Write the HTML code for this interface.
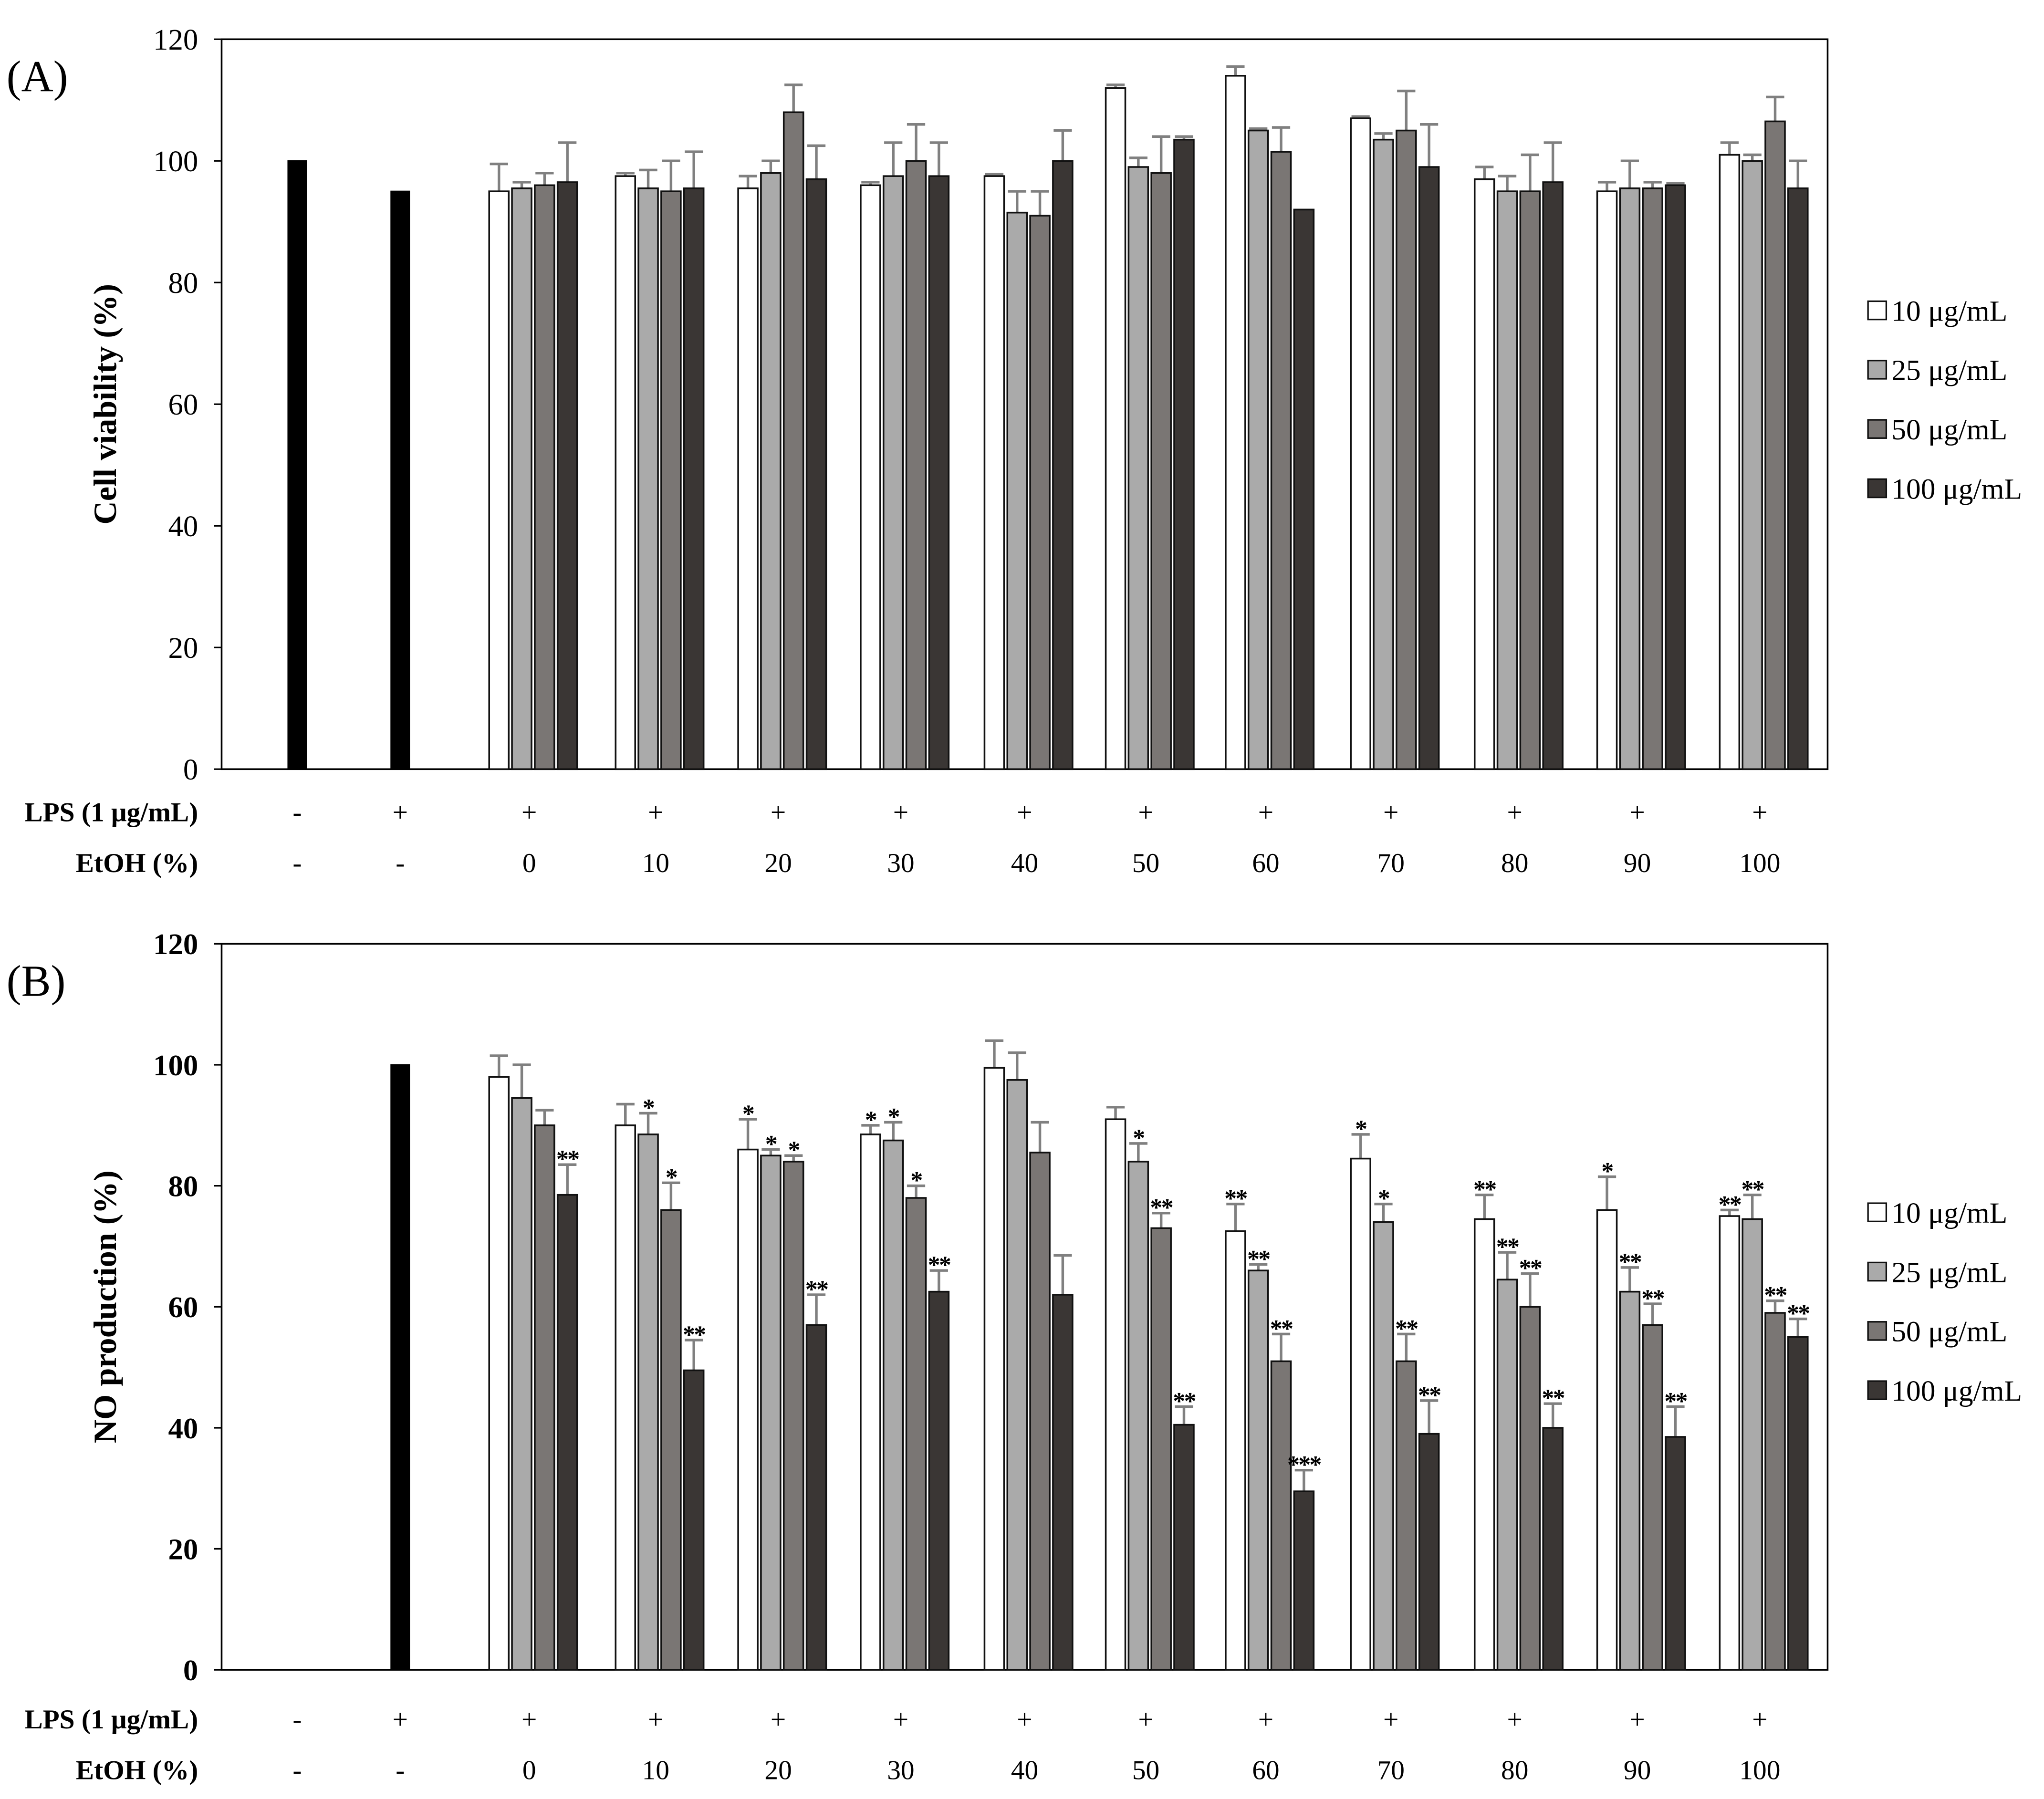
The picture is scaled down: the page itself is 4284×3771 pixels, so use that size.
<!DOCTYPE html>
<html><head><meta charset="utf-8"><style>
html,body{margin:0;padding:0;background:#fff}
svg{display:block}
text{font-family:"Liberation Serif",serif;fill:#000}
</style></head><body>
<svg id="fig" width="4284" height="3771" viewBox="0 0 1568 1380" xmlns="http://www.w3.org/2000/svg"></svg>
<script>
const groups = ['0','10','20','30','40','50','60','70','80','90','100'];
const seriesNames = ['10 μg/mL','25 μg/mL','50 μg/mL','100 μg/mL'];
const ctrlA = [100, 95];
const ctrlB = [0, 100];
const valsA10 = [95,97.5,95.5,96,97.5,112,114,107,97,95,101];
const valsA25 = [95.5,95.5,98,97.5,91.5,99,105,103.5,95,95.5,100];
const valsA50 = [96,95,108,100,91,98,101.5,105,95,95.5,106.5];
const valsA100 = [96.5,95.5,97,97.5,100,103.5,92,99,96.5,96,95.5];
const errA10 = [4.5,0.5,2,0.5,0.3,0.5,1.5,0.3,2,1.5,2];
const errA25 = [1,3,2,5.5,3.5,1.5,0.3,1,2.5,4.5,1];
const errA50 = [2,5,4.5,6,4,6,4,6.5,6,1,4];
const errA100 = [6.5,6,5.5,5.5,5,0.5,0,7,6.5,0.3,4.5];
const valsB10 = [98,90,86,88.5,99.5,91,72.5,84.5,74.5,76,75];
const valsB25 = [94.5,88.5,85,87.5,97.5,84,66,74,64.5,62.5,74.5];
const valsB50 = [90,76,84,78,85.5,73,51,51,60,57,59];
const valsB100 = [78.5,49.5,57,62.5,62,40.5,29.5,39,40,38.5,55];
const errB10 = [3.5,3.5,5,1.5,4.5,2,4.5,4,4,5.5,1];
const errB25 = [5.5,3.5,1,3,4.5,3,1,3,4.5,4,4];
const errB50 = [2.5,4.5,1,2,5,2.5,4.5,4.5,5.5,3.5,2];
const errB100 = [5,5,5,3.5,6.5,3,3.5,5.5,4,5,3];
const starsB10 = ['','','*','*','','','**','*','**','*','**'];
const starsB25 = ['','*','*','*','','*','**','*','**','**','**'];
const starsB50 = ['','*','*','*','','**','**','**','**','**','**'];
const starsB100 = ['**','**','**','**','','**','***','**','**','**','**'];
const yTicks = [0,20,40,60,80,100,120];
const lpsLabels = ['-','+','+','+','+','+','+','+','+','+','+','+','+'];
const etohLabels = ['-','-','0','10','20','30','40','50','60','70','80','90','100'];

const NS='http://www.w3.org/2000/svg';
const svg=document.getElementById('fig');
const fills=['#ffffff','#aaaaaa','#7a7674','#3a3634'];
function mk(tag,attrs,parent){const e=document.createElementNS(NS,tag);for(const k in attrs)e.setAttribute(k,attrs[k]);(parent||svg).appendChild(e);return e;}
const centers=[228,307,406,503,597,691,786,879,971,1067,1162,1256,1350];
const pitch=17.5, bw=15, shift=3;

function panel(name,top,bottom,ctrl,vals,errs,stars,yTitle,tickBold,letter,rowY,legY){
  const g=mk('g',{});
  
  
  const y=v=>bottom-(v/120)*(bottom-top);
  const t=mk('text',{x:5,y:top+40,'font-size':34},g);t.textContent=letter;
  
  
  const fr=mk('rect',{x:170,y:top,width:1232,height:bottom-top,fill:'none',stroke:'#000','stroke-width':1.3},g);
  
  
  yTicks.forEach(v=>{
    mk('line',{x1:164,x2:170,y1:y(v),y2:y(v),stroke:'#000','stroke-width':1.2},g);
    const tt=mk('text',{x:152,y:y(v)+8,'font-size':23,'text-anchor':'end','font-weight':tickBold?'bold':'normal'},g);
    tt.textContent=v;
    
    
  });
  const yt=mk('text',{x:0,y:0,'font-size':25,'font-weight':'bold','text-anchor':'middle',transform:`translate(89,${(top+bottom)/2}) rotate(-90)`},g);
  yt.textContent=yTitle;
  
  
  ctrl.forEach((v,i)=>{
    if(v<=0)return;
    const r=mk('rect',{x:centers[i]-7,y:y(v),width:14,height:bottom-y(v),fill:'#000',stroke:'#000','stroke-width':1},g);
    
    
  });
  groups.forEach((gname,gi)=>{
    const cx=centers[gi+2]+shift;
    for(let s=0;s<4;s++){
      const v=vals[s][gi], e=errs[s][gi];
      const bx=cx+(s-1.5)*pitch;
      if(e>0){
        mk('line',{x1:bx,x2:bx,y1:y(v),y2:y(v+e),stroke:'#808080','stroke-width':2},g);
        mk('line',{x1:bx-7,x2:bx+7,y1:y(v+e),y2:y(v+e),stroke:'#808080','stroke-width':2},g);
      }
      const r=mk('rect',{x:bx-bw/2,y:y(v),width:bw,height:bottom-y(v),fill:fills[s],stroke:'#111','stroke-width':1.3},g);
      
      
      if(stars&&stars[s][gi]){
        const st=mk('text',{x:bx,y:y(v+e)+2,'font-size':19,'font-weight':'bold','text-anchor':'middle','font-family':'Liberation Sans','letter-spacing':'-1'},g);
        st.textContent=stars[s][gi];
        
        
      }
    }
  });
  [['LPS (1 μg/mL)',lpsLabels,rowY],['EtOH (%)',etohLabels,rowY+39]].forEach(([lab,arr,ry])=>{
    const l=mk('text',{x:152,y:ry,'font-size':21,'font-weight':'bold','text-anchor':'end'},g);
    l.textContent=lab;
    
    
    arr.forEach((a,i)=>{
      const c=mk('text',{x:centers[i],y:ry,'font-size':21,'text-anchor':'middle'},g);
      c.textContent=a;
      
      
    });
  });
  seriesNames.forEach((n,s)=>{
    const ly=legY+s*45.5;
    const r=mk('rect',{x:1433,y:ly-7,width:14,height:14,fill:fills[s],stroke:'#111','stroke-width':1.2},g);
    
    
    const lt=mk('text',{x:1451,y:ly+8,'font-size':22.5},g);
    lt.textContent=n;
    
    
  });
}
panel('panel-a-cell-viability',30,590,ctrlA,[valsA10,valsA25,valsA50,valsA100],[errA10,errA25,errA50,errA100],null,'Cell viability (%)',false,'(A)',630,238);
panel('panel-b-no-production',724,1281,ctrlB,[valsB10,valsB25,valsB50,valsB100],[errB10,errB25,errB50,errB100],[starsB10,starsB25,starsB50,starsB100],'NO production (%)',true,'(B)',1326,930);
</script>
</body></html>
